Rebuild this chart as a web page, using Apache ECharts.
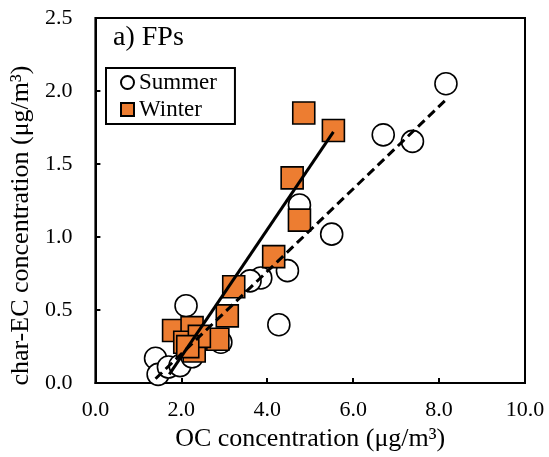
<!DOCTYPE html>
<html>
<head>
<meta charset="utf-8">
<script src="https://cdn.jsdelivr.net/npm/echarts@6/dist/echarts.min.js"></script>
<style>html,body{margin:0;padding:0;background:#fff}#c{width:549px;height:457px}</style>
</head>
<body>
<div id="c"></div>
<script>
var summerX = [8.16, 6.70, 7.38, 4.75, 5.50, 4.47, 3.85, 3.60, 4.27, 2.11, 2.92, 1.40, 1.46, 1.70, 1.97, 2.25];
var summerY = [2.05, 1.70, 1.655, 1.22, 1.02, 0.77, 0.72, 0.70, 0.40, 0.53, 0.28, 0.17, 0.06, 0.11, 0.12, 0.18];
var winterX = [4.85, 5.54, 4.58, 4.75, 4.15, 3.22, 3.07, 2.85, 1.82, 2.25, 2.08, 2.30, 2.42, 2.15];
var winterY = [1.85, 1.73, 1.405, 1.116, 0.866, 0.66, 0.46, 0.30, 0.36, 0.38, 0.28, 0.22, 0.32, 0.25];
var summerFitX = [1.40, 8.16];
var summerFitY = [0.03, 1.94];
var winterFitX = [1.72, 5.54];
var winterFitY = [0.06, 1.72];
var xTicks = [0, 2, 4, 6, 8, 10];
var yTicks = [0, 0.5, 1.0, 1.5, 2.0, 2.5];

function pairs(xs, ys) { return xs.map(function (x, i) { return [x, ys[i]]; }); }
var FONT = '"Liberation Serif", "Times New Roman", serif';
var chart = echarts.init(document.getElementById('c'), null, {renderer: 'canvas'});
chart.setOption({
  animation: false,
  textStyle: {fontFamily: FONT},
  title: {
    text: 'a) FPs', left: 113, top: 24, padding: 0,
    textStyle: {fontFamily: FONT, fontSize: 28, fontWeight: 'normal', color: '#000'}
  },
  legend: {
    left: 106, top: 68, orient: 'vertical',
    data: [{name: 'Summer', icon: 'circle'}, {name: 'Winter', icon: 'rect'}],
    itemWidth: 13, itemHeight: 13, itemGap: 4,
    borderColor: '#000', borderWidth: 2, padding: [3, 18, 3, 14],
    textStyle: {fontFamily: FONT, fontSize: 23, color: '#000'}
  },
  grid: {left: 92, right: 24, top: 18, bottom: 73, show: true, borderColor: '#000', borderWidth: 2},
  xAxis: {
    type: 'value', min: xTicks[0], max: xTicks[xTicks.length - 1], interval: 2,
    name: 'OC concentration (μg/m³)', nameLocation: 'middle', nameGap: 42,
    nameTextStyle: {fontFamily: FONT, fontSize: 26, color: '#000'},
    axisLine: {show: true, lineStyle: {color: '#000', width: 2}},
    axisTick: {show: true, inside: true, length: 5, lineStyle: {color: '#000', width: 2}},
    axisLabel: {fontFamily: FONT, fontSize: 22, color: '#000', margin: 16, formatter: function (v) { return v.toFixed(1); }},
    splitLine: {show: false}
  },
  yAxis: {
    type: 'value', min: yTicks[0], max: yTicks[yTicks.length - 1], interval: 0.5,
    name: 'char-EC concentration (μg/m³)', nameLocation: 'middle', nameGap: 60, nameRotate: 90,
    nameTextStyle: {fontFamily: FONT, fontSize: 26, color: '#000', padding: [0, 50, 0, 0]},
    axisLine: {show: true, lineStyle: {color: '#000', width: 2}},
    axisTick: {show: true, inside: true, length: 5, lineStyle: {color: '#000', width: 2}},
    axisLabel: {fontFamily: FONT, fontSize: 22, color: '#000', margin: 23, formatter: function (v) { return v.toFixed(1); }},
    splitLine: {show: false}
  },
  series: [
    {
      name: 'Summer', type: 'scatter', symbol: 'circle', symbolSize: 22, z: 2,
      itemStyle: {color: '#fff', borderColor: '#000', borderWidth: 1.6, opacity: 1},
      data: pairs(summerX, summerY)
    },
    {
      name: 'Winter', type: 'scatter', symbol: 'rect', symbolSize: 22, z: 3,
      itemStyle: {color: '#ED7D31', borderColor: '#000', borderWidth: 1.6, opacity: 1},
      data: pairs(winterX, winterY)
    },
    {
      name: 'SummerFit', type: 'line', symbol: 'none', z: 4, silent: true,
      lineStyle: {color: '#000', width: 3, type: [9, 5]},
      data: pairs(summerFitX, summerFitY)
    },
    {
      name: 'WinterFit', type: 'line', symbol: 'none', z: 4, silent: true,
      lineStyle: {color: '#000', width: 3},
      data: pairs(winterFitX, winterFitY)
    }
  ]
});
</script>
</body>
</html>
